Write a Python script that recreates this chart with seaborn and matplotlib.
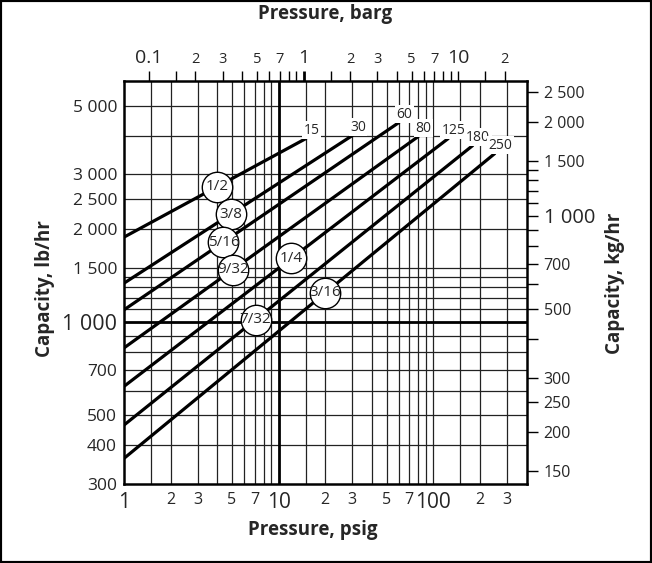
import numpy as np
import pandas as pd
import seaborn as sns
import matplotlib.pyplot as plt
from matplotlib.patches import Rectangle
from matplotlib.ticker import FixedLocator, NullFormatter, NullLocator

# Orifice lines: capacity at 1 psig and at the max pressure of each line
orifices = ["1/2", "3/8", "5/16", "9/32", "1/4", "7/32", "3/16"]
max_psig = [15, 30, 60, 80, 125, 180, 250]
cap_low = [1880, 1335, 1095, 825, 620, 465, 363]     # lb/hr at 1 psig
cap_high = [3910, 4000, 4405, 3970, 3910, 3712, 3497]  # lb/hr at max psig
badge_psig = [4.0, 4.9, 4.4, 5.05, 12.1, 7.1, 20.1]    # where the size circles sit

# grid + tick values
psig_grid = [1.5, 2, 3, 4, 5, 6, 7, 8, 9, 15, 20, 30, 40, 50, 60, 70, 80, 90, 100, 150, 200, 300]
lb_grid = [400, 500, 600, 700, 800, 900, 1100, 1200, 1300, 1400, 1500, 2000, 2500, 3000, 4000, 5000]
psig_ticks = [1, 2, 3, 5, 7, 10, 20, 30, 50, 70, 100, 200, 300]
psig_labels = ["1", "2", "3", "5", "7", "10", "2", "3", "5", "7", "100", "2", "3"]
barg_ticks = [0.1, 0.15, 0.2, 0.3, 0.4, 0.5, 0.6, 0.7, 0.8, 0.9, 1, 1.5, 2, 3, 4, 5, 6, 7, 8, 9, 10, 15, 20]
barg_labels = ["0.1", "", "2", "3", "", "5", "", "7", "", "", "1", "", "2", "3", "", "5", "", "7", "", "", "10", "", "2"]
lb_ticks = [300, 400, 500, 700, 1000, 1500, 2000, 2500, 3000, 5000]
kg_ticks = [150, 200, 250, 300, 400, 500, 600, 700, 800, 900, 1000, 1100, 1200, 1300, 1400, 1500, 2000, 2500]
kg_labels = ["150", "200", "250", "300", "", "500", "", "700", "", "", "1 000", "", "", "", "", "1 500", "2 000", "2 500"]

PSI_PER_BAR = 14.5038
LB_PER_KG = 2.20462
x_max, y_min, y_max = 405, 300, 6000

sns.set_theme(style="white")
plt.rcParams["font.family"] = ["Open Sans", "DejaVu Sans"]

fig = plt.figure(figsize=(6.52, 5.63), dpi=100)
ax = fig.add_axes([0.1902, 0.1403, 0.6181, 0.7158])

df = pd.DataFrame({
    "orifice": np.repeat(orifices, 2),
    "psig": np.ravel(np.column_stack([np.ones(len(max_psig)), max_psig])),
    "capacity": np.ravel(np.column_stack([cap_low, cap_high])),
})
sns.lineplot(data=df, x="psig", y="capacity", hue="orifice", palette=["black"] * len(orifices),
             legend=False, linewidth=2.3, estimator=None, sort=False, ax=ax, zorder=3)

ax.set_xscale("log")
ax.set_yscale("log")
ax.set_xlim(1, x_max)
ax.set_ylim(y_min, y_max)
ax.set_xlabel("")
ax.set_ylabel("")

# grid (minor locs overlap the labelled ones, so keep them all)
ax.xaxis.remove_overlapping_locs = False
ax.yaxis.remove_overlapping_locs = False
ax.xaxis.set_minor_locator(FixedLocator(psig_grid))
ax.yaxis.set_minor_locator(FixedLocator(lb_grid))
ax.xaxis.set_minor_formatter(NullFormatter())
ax.yaxis.set_minor_formatter(NullFormatter())
ax.grid(which="minor", color="#222222", linewidth=0.9)
ax.grid(which="major", visible=False)
ax.axvline(10, color="black", linewidth=2, zorder=2)
ax.axhline(1000, color="black", linewidth=2, zorder=2)

ax.set_xticks(psig_ticks)
ax.set_xticklabels(psig_labels)
ax.set_yticks(lb_ticks)
ax.set_yticklabels([f"{v:,}".replace(",", " ") for v in lb_ticks])
ax.tick_params(axis="both", which="both", length=0)
ax.tick_params(axis="x", pad=6)
ax.tick_params(axis="y", pad=5)
for lab in ax.get_xticklabels():
    lab.set_fontsize(15 if lab.get_text() in ("1", "10", "100") else 11.5)
for lab in ax.get_yticklabels():
    lab.set_fontsize(15.5 if lab.get_text() == "1 000" else 12.5)
for sp in ax.spines.values():
    sp.set_color("black")
    sp.set_linewidth(1.8)

# top axis: barg
ax_top = ax.twiny()
ax_top.set_xscale("log")
ax_top.set_xlim(1 / PSI_PER_BAR, x_max / PSI_PER_BAR)
ax_top.set_xticks(barg_ticks)
ax_top.set_xticklabels(barg_labels)
ax_top.xaxis.set_minor_locator(NullLocator())
ax_top.tick_params(axis="x", direction="out", length=7, width=1, color="black", pad=3)
for t, lab in zip(ax_top.xaxis.get_major_ticks(), ax_top.get_xticklabels()):
    big = lab.get_text() in ("0.1", "1", "10")
    lab.set_fontsize(14 if big else 10.5)
    if lab.get_text() == "1":
        t.tick2line.set_markeredgewidth(2)

# right axis: kg/hr
ax_right = ax.twinx()
ax_right.set_yscale("log")
ax_right.set_ylim(y_min / LB_PER_KG, y_max / LB_PER_KG)
ax_right.set_yticks(kg_ticks)
ax_right.set_yticklabels(kg_labels)
ax_right.yaxis.set_minor_locator(NullLocator())
ax_right.tick_params(axis="y", direction="out", length=8, width=1, color="black", pad=4)
for lab in ax_right.get_yticklabels():
    lab.set_fontsize(14.5 if lab.get_text() == "1 000" else 11.5)
for a in (ax_top, ax_right):
    for sp in a.spines.values():
        sp.set_visible(False)

# size circles on the lines
slopes = np.log(np.array(cap_high) / np.array(cap_low)) / np.log(max_psig)
badge_cap = np.array(cap_low) * np.array(badge_psig) ** slopes
sns.scatterplot(x=badge_psig, y=badge_cap, s=480, color="white", edgecolor="black",
                linewidth=1, zorder=4, ax=ax, legend=False)
for name, bx, by in zip(orifices, badge_psig, badge_cap):
    ax.text(bx, by, name, ha="center", va="center", fontsize=11, zorder=5)

# max pressure labels
for p, c in zip(max_psig, cap_high):
    ax.annotate(str(p), xy=(p, c), xytext=(4, 6), textcoords="offset points",
                ha="center", va="center", fontsize=10, zorder=5,
                bbox=dict(boxstyle="square,pad=0.1", fc="white", ec="none"))

fig.text(0.4985, 0.975, "Pressure, barg", ha="center", va="center", fontsize=13.5, fontweight="bold")
fig.text(0.480, 0.0586, "Pressure, psig", ha="center", va="center", fontsize=13.5, fontweight="bold")
fig.text(0.069, 0.488, "Capacity, lb/hr", ha="center", va="center", rotation=90, fontsize=13.5, fontweight="bold")
fig.text(0.943, 0.497, "Capacity, kg/hr", ha="center", va="center", rotation=90, fontsize=13.5, fontweight="bold")

fig.patches.append(Rectangle((0, 0), 1, 1, transform=fig.transFigure, fill=False,
                             edgecolor="black", linewidth=3))

plt.savefig("out.png", dpi=100)
